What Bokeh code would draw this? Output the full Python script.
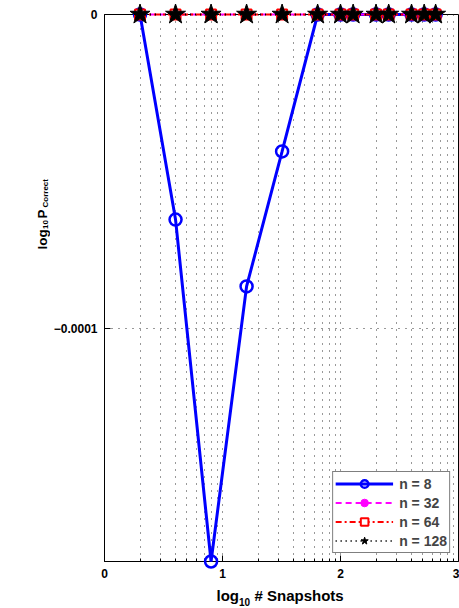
import math
import numpy as np
from bokeh.plotting import figure
from bokeh.layouts import row, column
from bokeh.models import Range1d, FixedTicker, Label, CustomJSTickFormatter
from bokeh.embed import file_html
from bokeh.resources import INLINE

# ---- data ----
snapshots = [2, 4, 8, 16, 32, 64, 100, 128, 200, 256, 400, 512, 640]
n8 = [0, -0.653e-4, -1.742e-4, -0.866e-4, -0.436e-4, 0, 0, 0, 0, 0, 0, 0, 0]
n32 = [0, 0, 0, 0, 0, 0, 0, 0, 0, 0, 0, 0, 0]
n64 = [0, 0, 0, 0, 0, 0, 0, 0, 0, 0, 0, 0, 0]
n128 = [0, 0, 0, 0, 0, 0, 0, 0, 0, 0, 0, 0, 0]
x_major = [0, 1, 2, 3]
y_major = [-0.0001, 0]

x = list(np.log10(snapshots))
minor = [math.log10(m * 10 ** k) for k in range(0, 3) for m in range(2, 10)]

FONT = "Liberation Sans"
MAIN_H = 583
YLAB_W = 50
XLAB_H = 25
FRAME_BOTTOM = 561   # page y of the frame bottom (frames in a row are aligned)

p = figure(width=459 - YLAB_W, height=MAIN_H, output_backend="svg", toolbar_location=None,
           x_range=Range1d(0, 3), y_range=Range1d(min(n8), 0),
           min_border_left=101 - YLAB_W, min_border_right=1, min_border_top=14,
           min_border_bottom=MAIN_H - FRAME_BOTTOM)
p.background_fill_color = "white"
p.border_fill_color = "white"
p.outline_line_color = "black"
p.outline_line_width = 1

# axes
p.xaxis.ticker = FixedTicker(ticks=x_major, minor_ticks=minor)
p.yaxis.ticker = FixedTicker(ticks=y_major)
p.yaxis.formatter = CustomJSTickFormatter(
    code="return tick === 0 ? '0' : '\\u2212' + Math.abs(tick).toFixed(4);")
for ax in (p.xaxis[0], p.yaxis[0]):
    ax.axis_line_color = "black"
    ax.major_tick_line_color = "black"
    ax.minor_tick_line_color = "black"
    ax.major_tick_in = 6
    ax.major_tick_out = 0
    ax.minor_tick_in = 3
    ax.minor_tick_out = 0
    ax.major_label_text_font = FONT
    ax.major_label_text_font_style = "bold"
    ax.major_label_text_font_size = "12px"
    ax.major_label_text_color = "black"
p.xaxis.major_label_standoff = 7
p.yaxis.major_label_standoff = 7

# grids
p.xgrid.ticker = FixedTicker(ticks=[1, 2], minor_ticks=minor)
p.xgrid.grid_line_color = "#333333"
p.xgrid.grid_line_dash = "1 6"
p.xgrid.minor_grid_line_color = "#333333"
p.xgrid.minor_grid_line_dash = "1 6"
p.ygrid.ticker = FixedTicker(ticks=[-0.0001])
p.ygrid.grid_line_color = "#333333"
p.ygrid.grid_line_dash = "1 6"

# series (overlay level so markers on the box edges are not clipped)
rs = []
rs.append(p.line(x, n8, line_color="#0000ff", line_width=3, legend_label="n = 8"))
rs.append(p.scatter(x, n8, marker="circle", size=12, line_color="#0000ff", line_width=2.5,
                    fill_alpha=0, legend_label="n = 8"))
rs.append(p.line(x, n32, line_color="#ff00ff", line_width=2, line_dash="6 4",
                 legend_label="n = 32"))
rs.append(p.scatter(x, n32, marker="circle", size=9, line_color="#ff00ff",
                    fill_color="#ff00ff", legend_label="n = 32"))
rs.append(p.line(x, n64, line_color="#ff0000", line_width=2, line_dash="6 3 2 3",
                 legend_label="n = 64"))
rs.append(p.scatter(x, n64, marker="square", size=10, line_color="#ff0000", line_width=2,
                    fill_color="white", legend_label="n = 64"))
rs.append(p.line(x, n128, line_color="black", line_width=2, line_dash="1 4",
                 legend_label="n = 128"))
rs.append(p.scatter(x, n128, marker="star", size=21, line_color="black",
                    fill_color="black", legend_label="n = 128"))
for r in rs:
    r.level = "overlay"

# legend
lg = p.legend[0]
lg.location = "bottom_right"
lg.margin = 8
lg.padding = 2
lg.spacing = 0
lg.label_height = 19
lg.glyph_height = 19
lg.glyph_width = 58
lg.label_standoff = 6
lg.label_text_font = FONT
lg.label_text_font_style = "bold"
lg.label_text_font_size = "14px"
lg.border_line_color = "black"
lg.border_line_width = 1.5
lg.background_fill_color = "white"
lg.background_fill_alpha = 1


def blank(w, h):
    f = figure(width=w, height=h, output_backend="svg", toolbar_location=None,
               x_axis_location=None, y_axis_location=None,
               x_range=Range1d(0, 1), y_range=Range1d(0, 1),
               min_border_left=0, min_border_right=0, min_border_top=0,
               min_border_bottom=0)
    f.outline_line_color = None
    f.grid.visible = False
    f.background_fill_color = "white"
    f.border_fill_color = "white"
    return f


def lab(f, txt, xs, ys, size, angle=0.0):
    f.add_layout(Label(x=xs, y=ys, x_units="screen", y_units="screen", text=txt,
                       angle=angle, text_font=FONT, text_font_style="bold",
                       text_font_size=size, text_color="black",
                       text_align="left", text_baseline="alphabetic"))


# y axis title (reads bottom to top); y measured up from the aligned frame bottom
ylab = blank(YLAB_W, MAIN_H)
lab(ylab, "log", 41.5, FRAME_BOTTOM - 249, "13.5px", math.pi / 2)
lab(ylab, "10", 44.5, FRAME_BOTTOM - 228.5, "8px", math.pi / 2)
lab(ylab, "P", 41.5, FRAME_BOTTOM - 218, "13.5px", math.pi / 2)
lab(ylab, "Correct", 44.5, FRAME_BOTTOM - 207, "8px", math.pi / 2)

# x axis title
xlab = blank(459, XLAB_H)
lab(xlab, "log", 216, 13, "15px")
lab(xlab, "10", 238.5, 7, "10px")
lab(xlab, "# Snapshots", 254, 13, "15px")

layout = column(row(ylab, p, spacing=0), xlab, spacing=0)
open("out.html", "w").write(file_html(layout, INLINE))
